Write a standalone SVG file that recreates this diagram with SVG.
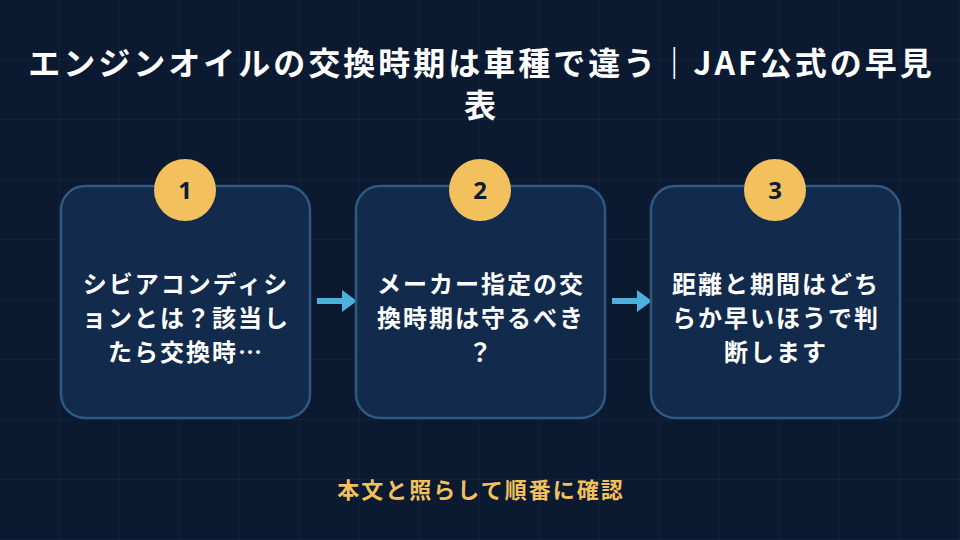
<svg xmlns="http://www.w3.org/2000/svg" width="960" height="540" viewBox="0 0 960 540">
<defs>
<pattern id="grid" width="60" height="60" patternUnits="userSpaceOnUse">
<path d="M60 0V60M0 60H60" fill="none" stroke="#13284a" stroke-width="1"/>
</pattern>
<style>
.t{font-family:"Noto Sans CJK JP","Noto Sans",sans-serif;font-weight:700;fill:#fff;text-anchor:middle}
.card{fill:#122a4b;stroke:#2e5a80;stroke-width:2.5}
.badge{fill:#f2c15e}
.num{font-family:"Noto Sans","Noto Sans CJK JP",sans-serif;font-weight:700;font-size:24px;fill:#0d1b33;text-anchor:middle}
.body{font-size:24px;letter-spacing:2px}
.arr{fill:#4eb0dc}
</style>
</defs>
<rect width="960" height="540" fill="#0b1a31"/>
<rect width="960" height="540" fill="url(#grid)"/>
<g id="title" style="letter-spacing:3px"><text class="t" font-size="32" x="481.5" y="75">エンジンオイルの交換時期は車種で違う｜JAF公式の早見</text><text class="t" font-size="32" x="481.5" y="117">表</text></g>
<g id="connectors">
<path class="arr" d="M317 298H342V290L357 301L342 312V304H317Z"/>
<path class="arr" d="M612 298H637V290L652 301L637 312V304H612Z"/>
</g>
<g id="step1"><rect class="card" x="61" y="186" width="249" height="232" rx="24"/><circle class="badge" cx="185" cy="190" r="31"/><text class="num" x="185" y="199">1</text>
<text class="t body" x="186" y="293">シビアコンディシ</text><text class="t body" x="186" y="327">ョンとは？該当し</text><text class="t body" x="186" y="361">たら交換時…</text></g>
<g id="step2"><rect class="card" x="356" y="186" width="249" height="232" rx="24"/><circle class="badge" cx="480" cy="190" r="31"/><text class="num" x="480" y="199">2</text>
<text class="t body" x="481" y="293">メーカー指定の交</text><text class="t body" x="481" y="327">換時期は守るべき</text><text class="t body" x="481" y="361">？</text></g>
<g id="step3"><rect class="card" x="651" y="186" width="249" height="232" rx="24"/><circle class="badge" cx="775" cy="190" r="31"/><text class="num" x="775" y="199">3</text>
<text class="t body" x="776" y="293">距離と期間はどち</text><text class="t body" x="776" y="327">らか早いほうで判</text><text class="t body" x="776" y="361">断します</text></g>
<g id="footer"><text class="t" font-size="22" x="481" y="498" style="fill:#f2c15e;letter-spacing:2px">本文と照らして順番に確認</text></g>
</svg>
